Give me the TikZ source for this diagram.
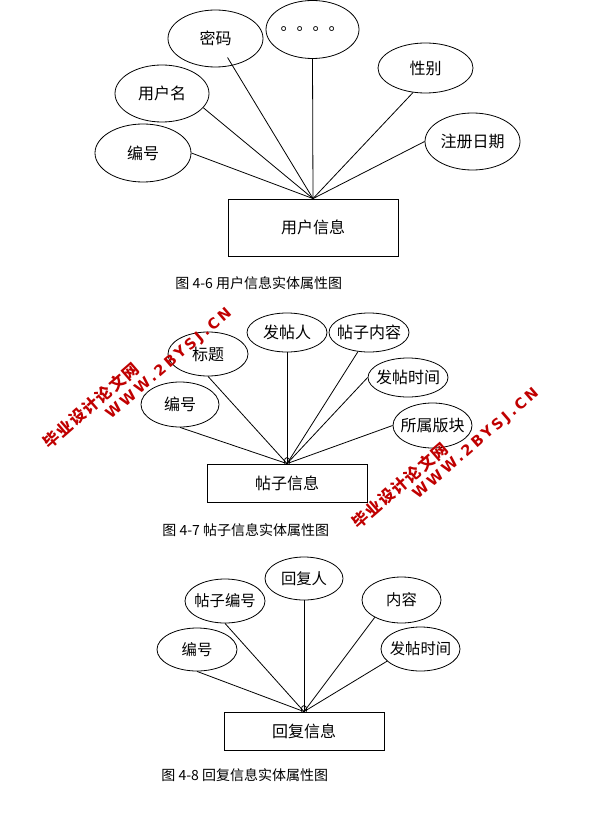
\documentclass[tikz,border=0pt]{standalone}
\usepackage{fontspec}
\setmainfont{Noto Sans CJK SC}
\newfontfamily\wmcjk[LetterSpace=8]{Noto Sans CJK SC}
\newfontfamily\wmlatin[LetterSpace=20]{DejaVu Sans}
\usetikzlibrary{shapes.geometric}
\begin{document}
\begin{tikzpicture}[x=0.75pt,y=-0.75pt,line width=0.6pt,
  attr/.style 2 args={draw,ellipse,inner sep=-6pt,minimum width=#1,minimum height=#2,font=\fontsize{12}{14}\selectfont},
  entity/.style 2 args={draw,rectangle,inner sep=0pt,minimum width=#1,minimum height=#2,font=\fontsize{12}{14}\selectfont},
  caption/.style={anchor=west,inner sep=0pt,font=\fontsize{10.5}{12}\selectfont},
  wmcn/.style={rotate=41,anchor=west,inner sep=0pt,text=wmred,font=\wmcjk\bfseries\fontsize{12}{14}\selectfont},
  wmen/.style={rotate=41,anchor=west,inner sep=0pt,text=wmred,font=\wmlatin\bfseries\fontsize{11}{13}\selectfont}]
  \definecolor{wmred}{HTML}{C00000}
  \useasboundingbox (0,0) rectangle (598,834);
  % user
  \node [entity={127.5pt}{42.75pt}] (user) at (313,227.5) {用户信息};
  \node [attr={72pt}{43.5pt}] (bh) at (143,153) {编号};
  \node [attr={70.5pt}{42.75pt}] (yhm) at (162,93.5) {用户名};
  \node [attr={71.25pt}{42.75pt}] (mm) at (215.5,38.5) {密码};
  \node [attr={69.75pt}{43.5pt}] (dd) at (312.5,29.5) {。。。。};
  \node [attr={71.25pt}{37.5pt}] (xb) at (425.5,68) {性别};
  \node [attr={71.25pt}{42.75pt}] (zc) at (472.5,141.5) {注册日期};
  \draw (bh.east) -- (user.north);
  \draw (yhm.-19) -- (user.north);
  \draw [shorten <=-7pt] (mm.-58) -- (user.north);
  \draw (dd.south) -- (user.north);
  \draw (xb.-117) -- (user.north);
  \draw (zc.west) -- (user.north);
  \node [caption] (cap1) at (175,283) {图 4-6 用户信息实体属性图};
  % post
  \node [entity={120pt}{28.5pt}] (post) at (287,483) {帖子信息};
  \node [attr={60pt}{33pt}] (bt) at (208,354) {标题};
  \node [attr={60pt}{29.25pt}] (fty) at (287,332.5) {发帖人};
  \node [attr={60pt}{29.25pt}] (tznr) at (369,332.5) {帖子内容};
  \node [attr={60pt}{29.25pt}] (ftsj) at (408,377.5) {发帖时间};
  \node [attr={58.5pt}{33.75pt}] (bh2) at (180,404.5) {编号};
  \node [attr={59.25pt}{33.75pt}] (ssbk) at (432.5,425.5) {所属版块};
  \draw (bt.south) -- (post.north);
  \draw (fty.south) -- (post.north);
  \draw (tznr.-120) -- (post.north);
  \draw (ftsj.west) -- (post.north);
  \draw (bh2.south) -- (post.north);
  \draw (ssbk.west) -- (post.north);
  \draw (post.north) ++(-2.5,0) -- ++(0,-3) arc (180:360:2.5 and 3) -- ++(0,3);
  \node [caption] (cap2) at (162,530) {图 4-7 帖子信息实体属性图};
  % reply
  \node [entity={120pt}{28.5pt}] (reply) at (304,731) {回复信息};
  \node [attr={60pt}{32.25pt},font=\fontsize{11.5}{13}\selectfont] (bh3) at (197,649.5) {编号};
  \node [attr={60pt}{33pt},font=\fontsize{11.5}{13}\selectfont] (tzbh) at (225,601) {帖子编号};
  \node [attr={58.5pt}{32.25pt},font=\fontsize{11.5}{13}\selectfont] (hfr) at (304,578.5) {回复人};
  \node [attr={59.25pt}{34.5pt},font=\fontsize{11.5}{13}\selectfont] (nr) at (401.5,600) {内容};
  \node [attr={59.25pt}{33pt},font=\fontsize{11.5}{13}\selectfont] (ftsj3) at (420.5,649) {发帖时间};
  \draw (bh3.south) -- (reply.north);
  \draw (tzbh.south) -- (reply.north);
  \draw (hfr.south) -- (reply.north);
  \draw (nr.-147) -- (reply.north);
  \draw (ftsj3.-160) -- (reply.north);
  \draw (reply.north) ++(-2.5,0) -- ++(0,-3) arc (180:360:2.5 and 3) -- ++(0,3);
  \node [caption] (cap3) at (161,775) {图 4-8 回复信息实体属性图};
  % watermark
  \node [wmcn] (wm1) at (45.5,445) {毕业设计论文网};
  \node [wmen] (wm2) at (108,417) {WWW.2BYSJ.CN};
  \node [wmcn] (wm3) at (354.5,525) {毕业设计论文网};
  \node [wmen] (wm4) at (415,497) {WWW.2BYSJ.CN};
\end{tikzpicture}
\end{document}
